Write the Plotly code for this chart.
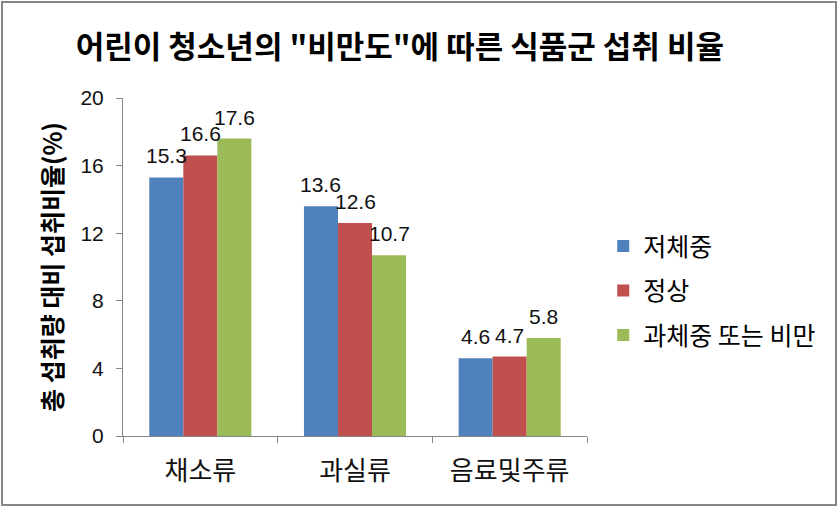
import plotly.graph_objects as go

categories = ["채소류", "과실류", "음료및주류"]
series_names = ["저체중", "정상", "과체중 또는 비만"]
underweight = [15.3, 13.6, 4.6]
normal = [16.6, 12.6, 4.7]
overweight = [17.6, 10.7, 5.8]
colors = ["#4F81BD", "#C0504D", "#9BBB59"]
y_ticks = [0, 4, 8, 12, 16, 20]

FONT = "Noto Sans CJK KR"
NUMFONT = "Liberation Sans"
W, H = 840, 509
ML, MR, MT, MB = 123, 253, 98, 73
BARGAP = 0.34
plot_w = W - ML - MR
bar_px = plot_w / len(categories) * (1 - BARGAP) / 3

fig = go.Figure()
all_vals = [underweight, normal, overweight]
for i, (name, vals) in enumerate(zip(series_names, all_vals)):
    fig.add_trace(go.Bar(
        x=categories, y=vals, name=name, marker_color=colors[i],
        marker_line_width=0, legendgroup=f"g{i}",
    ))
    for c, v in zip(categories, vals):
        fig.add_annotation(x=c, y=v, xref="x", yref="y", text=f"{v:.1f}",
                           showarrow=False, yanchor="bottom", yshift=8,
                           xshift=(i - 1) * bar_px,
                           font=dict(family=NUMFONT, size=21, color="#111111"))

fig.update_layout(
    width=W, height=H,
    margin=dict(l=ML, r=MR, t=MT, b=MB),
    paper_bgcolor="white", plot_bgcolor="white",
    barmode="group", bargap=BARGAP, bargroupgap=0,
    title=dict(text='어린이 청소년의 "비만도"에 따른 식품군 섭취 비율',
               font=dict(family=FONT, size=31, color="#000000", weight="bold"),
               x=0.476, xref="container", xanchor="center",
               y=1 - 47 / H, yref="container", yanchor="middle"),
    showlegend=True,
    legend=dict(x=1.035, y=0.43, xanchor="left", yanchor="middle",
                font=dict(family=FONT, size=25, color="#000000"),
                tracegroupgap=9, bgcolor="rgba(0,0,0,0)"),
    font=dict(family=FONT),
)
fig.update_xaxes(
    showline=True, linecolor="#868686", linewidth=1,
    ticks="outside", ticklen=6, tickcolor="#868686", tickson="boundaries",
    tickfont=dict(family=FONT, size=26, color="#111111"),
    ticklabelstandoff=12,
    showgrid=False,
)
fig.update_yaxes(
    range=[0, 20], tickvals=y_ticks, showline=True, linecolor="#868686", linewidth=1,
    ticks="outside", ticklen=6, tickcolor="#868686",
    tickfont=dict(family=NUMFONT, size=21, color="#111111"),
    ticklabelstandoff=8,
    showgrid=False, zeroline=False,
    title=dict(text="총 섭취량 대비 섭취비율(%)", standoff=10,
               font=dict(family=FONT, size=25, color="#000000", weight="bold")),
)
fig.add_shape(type="rect", xref="paper", yref="paper",
              x0=-(ML - 2) / plot_w, x1=(W - ML - 4) / plot_w,
              y0=-(MB - 4) / (H - MT - MB), y1=(H - MB - 2) / (H - MT - MB),
              line=dict(color="#868686", width=2), fillcolor="rgba(0,0,0,0)", layer="below")

fig.write_html("out.html")
